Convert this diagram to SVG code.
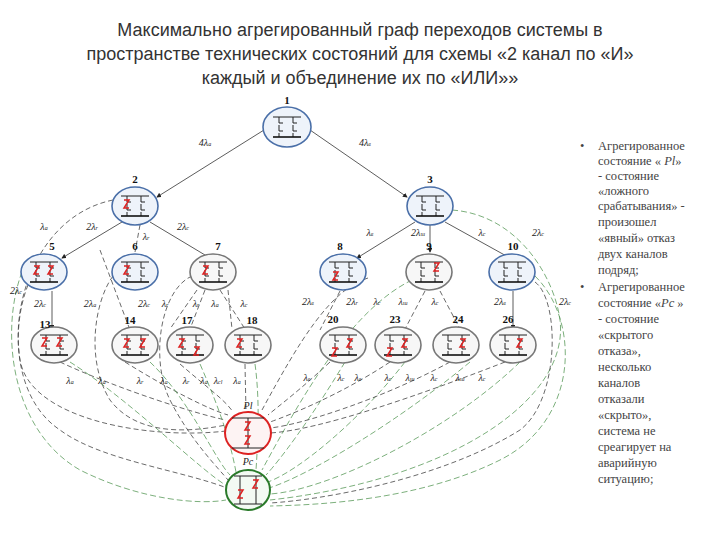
<svg xmlns="http://www.w3.org/2000/svg" width="720" height="540" viewBox="0 0 720 540">
<style>
.t{font-family:"Liberation Sans",Arial,sans-serif;font-size:18px;fill:#333;text-anchor:middle}
.n{font-family:"Liberation Serif",serif;font-size:11px;font-weight:bold;fill:#111;text-anchor:middle}
.l{font-family:"Liberation Serif",serif;font-size:10px;font-style:italic;fill:#222;text-anchor:middle}
.s{font-size:6px}
.bl{fill:#eef3fa;stroke:#4a6fa8;stroke-width:1.6}
.gr{fill:#f7f7f7;stroke:#777;stroke-width:1.6}
.sch{fill:none;stroke:#222;stroke-width:1}
.f{fill:none;stroke:#d22;stroke-width:1.5}
.e{fill:none;stroke:#333;stroke-width:0.8;marker-end:url(#a)}
.d{fill:none;stroke:#444;stroke-width:0.8;stroke-dasharray:5 3}
.g{fill:none;stroke:#5a9a5a;stroke-width:0.8;stroke-dasharray:6 3}
</style>
<defs>
<marker id="a" markerWidth="6" markerHeight="6" refX="5" refY="3" orient="auto"><path d="M0,0L6,3L0,6z" fill="#222"/></marker>
<symbol id="c" viewBox="-16 -12 32 24" width="32" height="24" overflow="visible">
<path class="sch" d="M-14,-10H14 M-8,-10V-4H-4 M-8,-2V4H-4 M-8,6V10 M6,-10V-4H10 M6,-2V4H10 M6,6V10"/>
<path d="M-14,10H14" stroke="#111" stroke-width="1.6"/>
</symbol>
<path id="z" d="M-3,-4h5l-5,8h5"/>
</defs>
<text class="t" x="360" y="36">Максимально агрегированный граф переходов системы в</text>
<text class="t" x="360" y="60">пространстве технических состояний для схемы «2 канал по «И»</text>
<text class="t" x="360" y="84">каждый и объединение их по «ИЛИ»»</text>

<g id="connectors">
<path class="e" d="M264,130L157,197"/>
<path class="e" d="M310,130L407,197"/>
<path class="e" d="M122,222L62,258"/>
<path class="d" d="M140,225L135,252"/>
<path class="e" d="M150,222L210,258"/>
<path class="e" d="M415,222L357,258"/>
<path class="e" d="M430,225L430,252"/>
<path class="e" d="M445,222L510,258"/>
<path class="e" d="M52,291L52,329"/>
<path class="e" d="M513,291L513,329"/>
<path class="d" d="M100,250L130,330"/>
<path class="d" d="M205,290L190,329"/>
<path class="d" d="M220,290L245,329"/>
<path class="d" d="M197,290L170,329"/>
<path class="d" d="M228,290L232,329"/>
<path class="d" d="M425,291L405,329"/>
<path class="d" d="M440,291L460,329"/>
<path class="d" d="M340,291L320,330"/>
<path class="d" d="M113,200C40,215 10,300 20,360C30,420 150,440 226,431"/>
<path class="d" d="M28,285C10,330 15,400 60,430C100,460 180,470 227,488"/>
<path class="d" d="M113,276C95,300 85,360 110,400C140,440 200,430 226,425"/>
<path class="d" d="M192,276C160,290 150,360 170,400C190,440 220,470 228,480"/>
<path class="d" d="M60,362C120,390 200,415 226,420"/>
<path class="g" d="M70,362C130,400 200,470 227,486"/>
<path class="d" d="M125,362C170,390 210,410 228,415"/>
<path class="g" d="M150,362C190,400 215,460 230,475"/>
<path class="d" d="M180,364C210,390 225,400 233,412"/>
<path class="g" d="M200,364C220,410 230,440 236,472"/>
<path class="d" d="M245,364L246,411"/>
<path class="g" d="M255,364C260,400 258,440 256,470"/>
<path class="d" d="M330,362C300,390 280,405 268,415"/>
<path class="g" d="M345,362C310,420 280,460 266,475"/>
<path class="d" d="M390,362C340,395 290,415 270,422"/>
<path class="g" d="M405,362C360,420 300,470 268,482"/>
<path class="d" d="M450,362C380,400 300,425 270,428"/>
<path class="g" d="M470,362C400,420 310,475 269,488"/>
<path class="d" d="M505,362C420,395 320,430 270,433"/>
<path class="g" d="M520,362C450,430 330,490 270,494"/>
<path class="d" d="M368,278C330,290 300,340 262,410"/>
<path class="g" d="M412,280C350,310 300,400 262,470"/>
<path class="g" d="M452,210C520,215 555,280 560,320C570,400 450,480 270,500"/>
<path class="d" d="M535,282C560,300 560,400 520,430C440,480 320,500 270,503"/>
<path class="g" d="M535,276C580,320 580,420 500,460C420,500 320,505 270,506"/>
<path class="g" d="M22,272C0,330 10,430 80,470C140,500 200,505 226,500"/>
</g>

<g id="labels">
<text class="l" x="205" y="146">4λ<tspan class="s">а</tspan></text>
<text class="l" x="365" y="146">4λ<tspan class="s">в</tspan></text>
<text class="l" x="44" y="230">λ<tspan class="s">a</tspan></text>
<text class="l" x="92" y="230">2λ<tspan class="s">r</tspan></text>
<text class="l" x="146" y="240">λ<tspan class="s">r</tspan></text>
<text class="l" x="183" y="230">2λ<tspan class="s">c</tspan></text>
<text class="l" x="370" y="236">λ<tspan class="s">в</tspan></text>
<text class="l" x="418" y="236">2λ<tspan class="s">ш</tspan></text>
<text class="l" x="482" y="236">λ<tspan class="s">с</tspan></text>
<text class="l" x="538" y="236">2λ<tspan class="s">с</tspan></text>
<text class="l" x="16" y="294">2λ<tspan class="s">c</tspan></text>
<text class="l" x="40" y="307">2λ<tspan class="s">c</tspan></text>
<text class="l" x="90" y="307">2λ<tspan class="s">a</tspan></text>
<text class="l" x="144" y="307">2λ<tspan class="s">c</tspan></text>
<text class="l" x="165" y="307">λ<tspan class="s">r</tspan></text>
<text class="l" x="196" y="307">λ<tspan class="s">r</tspan></text>
<text class="l" x="215" y="307">λ<tspan class="s">a</tspan></text>
<text class="l" x="244" y="307">λ<tspan class="s">c</tspan></text>
<text class="l" x="308" y="305">2λ<tspan class="s">в</tspan></text>
<text class="l" x="352" y="305">2λ<tspan class="s">r</tspan></text>
<text class="l" x="377" y="305">λ<tspan class="s">c</tspan></text>
<text class="l" x="403" y="305">λ<tspan class="s">ш</tspan></text>
<text class="l" x="435" y="305">λ<tspan class="s">c</tspan></text>
<text class="l" x="500" y="305">2λ<tspan class="s">в</tspan></text>
<text class="l" x="565" y="305">2λ<tspan class="s">c</tspan></text>
<text class="l" x="70" y="384">λ<tspan class="s">a</tspan></text>
<text class="l" x="102" y="384">λ<tspan class="s">a</tspan></text>
<text class="l" x="140" y="384">λ<tspan class="s">r</tspan></text>
<text class="l" x="164" y="384">λ<tspan class="s">a</tspan></text>
<text class="l" x="186" y="384">λ<tspan class="s">r</tspan></text>
<text class="l" x="204" y="384">λ<tspan class="s">a</tspan></text>
<text class="l" x="218" y="384">λ<tspan class="s">cl</tspan></text>
<text class="l" x="237" y="384">λ<tspan class="s">a</tspan></text>
<text class="l" x="307" y="381">λ<tspan class="s">в</tspan></text>
<text class="l" x="341" y="381">λ<tspan class="s">c</tspan></text>
<text class="l" x="358" y="381">λ<tspan class="s">в</tspan></text>
<text class="l" x="388" y="381">λ<tspan class="s">c</tspan></text>
<text class="l" x="410" y="381">λ<tspan class="s">ш</tspan></text>
<text class="l" x="434" y="381">λ<tspan class="s">c</tspan></text>
<text class="l" x="460" y="381">λ<tspan class="s">ш</tspan></text>
<text class="l" x="482" y="381">λ<tspan class="s">c</tspan></text>
</g>

<g id="n1"><ellipse class="bl" cx="287" cy="127" rx="24" ry="20"/><use href="#c" x="271" y="115"/><text class="n" x="287" y="104">1</text></g>
<g id="n2"><ellipse class="bl" cx="135" cy="206" rx="23" ry="19"/><use href="#c" x="119" y="194"/><use href="#z" class="f" x="127" y="204"/><text class="n" x="135" y="183">2</text></g>
<g id="n3"><ellipse class="bl" cx="430" cy="206" rx="23" ry="19"/><use href="#c" x="414" y="194"/><text class="n" x="430" y="183">3</text></g>
<g id="n5"><ellipse class="bl" cx="44" cy="272" rx="23" ry="18"/><use href="#c" x="28" y="260"/><use href="#z" class="f" x="37" y="270"/><use href="#z" class="f" x="51" y="270"/><text class="n" x="52" y="250">5</text></g>
<g id="n6"><ellipse class="bl" cx="135" cy="272" rx="23" ry="18"/><use href="#c" x="119" y="260"/><use href="#z" class="f" x="127" y="270"/><text class="n" x="135" y="250">6</text></g>
<g id="n7"><ellipse class="gr" cx="213" cy="272" rx="23" ry="18"/><use href="#c" x="197" y="260"/><use href="#z" class="f" x="206" y="270"/><text class="n" x="218" y="250">7</text></g>
<g id="n8"><ellipse class="bl" cx="343" cy="272" rx="23" ry="18"/><use href="#c" x="327" y="260"/><use href="#z" class="f" x="336" y="276"/><text class="n" x="340" y="250">8</text></g>
<g id="n9"><ellipse class="gr" cx="429" cy="272" rx="23" ry="18"/><use href="#c" x="413" y="260"/><use href="#z" class="f" x="437" y="267"/><text class="n" x="429" y="250">9</text></g>
<g id="n10"><ellipse class="bl" cx="512" cy="272" rx="23" ry="18"/><use href="#c" x="496" y="260"/><text class="n" x="513" y="250">10</text></g>
<g id="n13"><ellipse class="gr" cx="54" cy="345" rx="23" ry="18"/><use href="#c" x="38" y="333"/><use href="#z" class="f" x="45" y="342"/><use href="#z" class="f" x="60" y="342"/><text class="n" x="45" y="328">13</text></g>
<g id="n14"><ellipse class="gr" cx="135" cy="345" rx="23" ry="18"/><use href="#c" x="119" y="333"/><use href="#z" class="f" x="127" y="343"/><use href="#z" class="f" x="143" y="343"/><text class="n" x="130" y="324">14</text></g>
<g id="n17"><ellipse class="gr" cx="190" cy="345" rx="23" ry="18"/><use href="#c" x="174" y="333"/><use href="#z" class="f" x="182" y="343"/><use href="#z" class="f" x="197" y="351"/><text class="n" x="187" y="324">17</text></g>
<g id="n18"><ellipse class="gr" cx="248" cy="345" rx="23" ry="18"/><use href="#c" x="232" y="333"/><use href="#z" class="f" x="240" y="343"/><text class="n" x="252" y="324">18</text></g>
<g id="n20"><ellipse class="gr" cx="343" cy="345" rx="23" ry="18"/><use href="#c" x="327" y="333"/><use href="#z" class="f" x="335" y="352"/><use href="#z" class="f" x="350" y="343"/><text class="n" x="333" y="323">20</text></g>
<g id="n23"><ellipse class="gr" cx="398" cy="345" rx="23" ry="18"/><use href="#c" x="382" y="333"/><use href="#z" class="f" x="390" y="352"/><use href="#z" class="f" x="405" y="343"/><text class="n" x="395" y="323">23</text></g>
<g id="n24"><ellipse class="gr" cx="456" cy="345" rx="23" ry="18"/><use href="#c" x="440" y="333"/><use href="#z" class="f" x="463" y="343"/><text class="n" x="458" y="323">24</text></g>
<g id="n26"><ellipse class="gr" cx="513" cy="345" rx="23" ry="18"/><use href="#c" x="497" y="333"/><use href="#z" class="f" x="520" y="343"/><text class="n" x="508" y="323">26</text></g>
<g id="nPl"><ellipse cx="248" cy="433" rx="23" ry="21" fill="#fdf3f3" stroke="#d22" stroke-width="2"/><path class="sch" d="M232,418H264 M248,418V448 M232,448H264"/><use href="#z" class="f" x="248" y="426"/><use href="#z" class="f" x="248" y="440"/><text class="l" x="248" y="409" font-size="11">Pl</text></g>
<g id="nPc"><ellipse cx="248" cy="490" rx="22" ry="20" fill="#f3faf3" stroke="#2a7a2a" stroke-width="2"/><path class="sch" d="M234,476H262 M240,476V504 M256,476V504 M234,504H262"/><use href="#z" class="f" x="241" y="494"/><use href="#z" class="f" x="256" y="484"/><text class="l" x="248" y="465" font-size="11">Pc</text></g>

<g id="notes" font-family="'Liberation Serif', 'Times New Roman', serif" font-size="12.5" fill="#444">
<text x="580" y="150">•</text>
<text x="598" y="150">Агрегированное</text>
<text x="598" y="165">состояние « <tspan font-style="italic">Pl</tspan>»</text>
<text x="598" y="180">- состояние</text>
<text x="598" y="195">«ложного</text>
<text x="598" y="210">срабатывания» -</text>
<text x="598" y="226">произошел</text>
<text x="598" y="242">«явный» отказ</text>
<text x="598" y="258">двух каналов</text>
<text x="598" y="274">подряд;</text>
<text x="580" y="291">•</text>
<text x="598" y="291">Агрегированное</text>
<text x="598" y="307">состояние «<tspan font-style="italic">Pc</tspan> »</text>
<text x="598" y="323">- состояние</text>
<text x="598" y="339">«скрытого</text>
<text x="598" y="355">отказа»,</text>
<text x="598" y="371">несколько</text>
<text x="598" y="387">каналов</text>
<text x="598" y="403">отказали</text>
<text x="598" y="419">«скрыто»,</text>
<text x="598" y="435">система не</text>
<text x="598" y="451">среагирует на</text>
<text x="598" y="467">аварийную</text>
<text x="598" y="483">ситуацию;</text>
</g>
</svg>
